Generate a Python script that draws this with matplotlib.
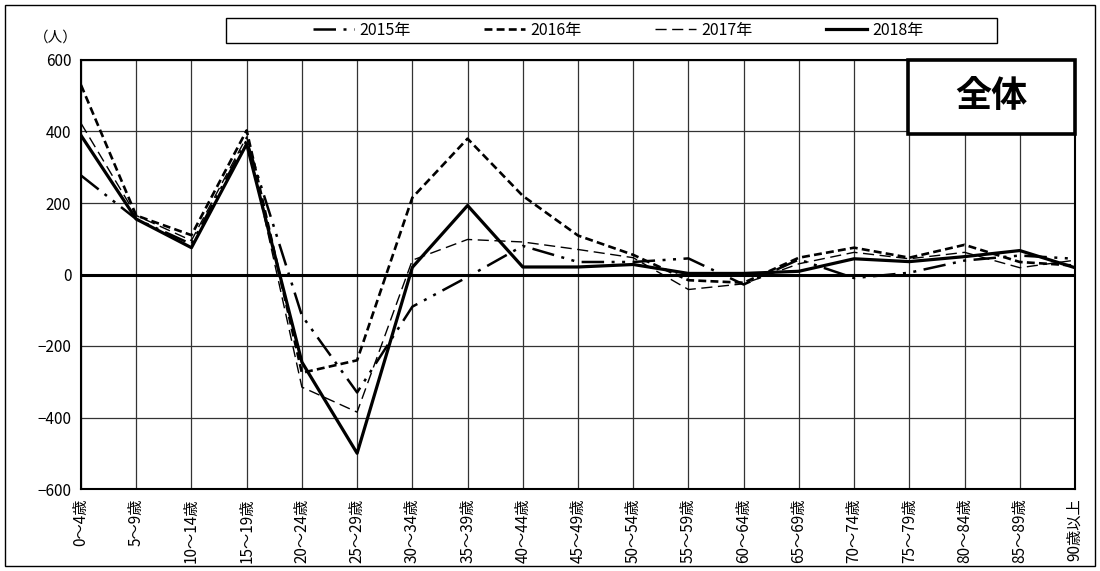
import matplotlib
matplotlib.use("Agg")
import matplotlib.pyplot as plt
from matplotlib.patches import Rectangle

plt.rcParams['font.family'] = ['Noto Sans CJK JP', 'DejaVu Sans']

#-------data------
ages = ['0～4歳', '5～9歳', '10～14歳', '15～19歳', '20～24歳', '25～29歳',
        '30～34歳', '35～39歳', '40～44歳', '45～49歳', '50～54歳', '55～59歳',
        '60～64歳', '65～69歳', '70～74歳', '75～79歳', '80～84歳', '85～89歳',
        '90歳以上']
v2015 = [277, 155, 85, 375, -115, -330, -90, -7, 80, 35, 35, 45,
         -28, 42, -10, 5, 39, 53, 44]
v2016 = [530, 165, 110, 403, -275, -240, 215, 380, 220, 109, 55, -16,
         -23, 47, 75, 47, 83, 35, 25]
v2017 = [423, 165, 95, 385, -315, -385, 40, 98, 91, 70, 47, -42,
         -26, 30, 62, 44, 62, 19, 40]
v2018 = [389, 155, 75, 365, -245, -500, 20, 193, 21, 21, 28, 3,
         3, 9, 44, 36, 50, 67, 19]
yticks = [-600, -400, -200, 0, 200, 400, 600]

W, H = 1100, 571
fig = plt.figure(figsize=(W/100, H/100), dpi=100)
ax = fig.add_axes([81/W, 1-489/H, (1075-81)/W, (489-60)/H])

x = range(len(ages))
l1, = ax.plot(x, v2015, color='black', lw=1.8, dashes=(9, 3, 1.2, 3, 1.2, 3), label='2015年')
l2, = ax.plot(x, v2016, color='black', lw=1.9, dashes=(3, 1.6), label='2016年')
l3, = ax.plot(x, v2017, color='black', lw=1.0, dashes=(8, 4), label='2017年')
l4, = ax.plot(x, v2018, color='black', lw=2.3, label='2018年')

ax.axhline(0, color='black', lw=2.2, zorder=1)
ax.set_xlim(0, len(ages)-1)
ax.set_ylim(-600, 600)
ax.set_yticks(yticks)
ax.set_xticks(list(x))
ax.set_xticklabels(ages, rotation=90, va='top', ha='center')
ax.tick_params(length=0, labelsize=11, pad=7)
ax.grid(True, color='#333333', lw=0.9, zorder=0)
ax.set_axisbelow(True)
for s in ax.spines.values():
    s.set_linewidth(1.5)

# unit label
fig.text(56/W, 1-38/H, '（人）', fontsize=10.5, ha='center', va='center')

# legend with its own frame
fig.add_artist(Rectangle((226/W, 1-43/H), (997-226)/W, 25/H, transform=fig.transFigure,
                         fill=False, ec='black', lw=1.0))
fig.legend(handles=[l1, l2, l3, l4], loc='center', bbox_to_anchor=(618/W, 1-30.5/H),
           ncol=4, frameon=False, fontsize=11.5, handlelength=2.6, columnspacing=4.6,
           handletextpad=0.3)

# title box
fig.add_artist(Rectangle((908/W, 1-134/H), (1075-908)/W, 74/H, transform=fig.transFigure,
                         fc='white', ec='black', lw=2.6, zorder=5))
fig.text(991/W, 1-97/H, '全体', fontsize=26, fontweight='bold', ha='center', va='center', zorder=6)

# outer frame
fig.add_artist(Rectangle((5/W, 5/H), 1090/W, 561/H, transform=fig.transFigure,
                         fill=False, ec='black', lw=1.0))

fig.savefig('out.png', dpi=100)
